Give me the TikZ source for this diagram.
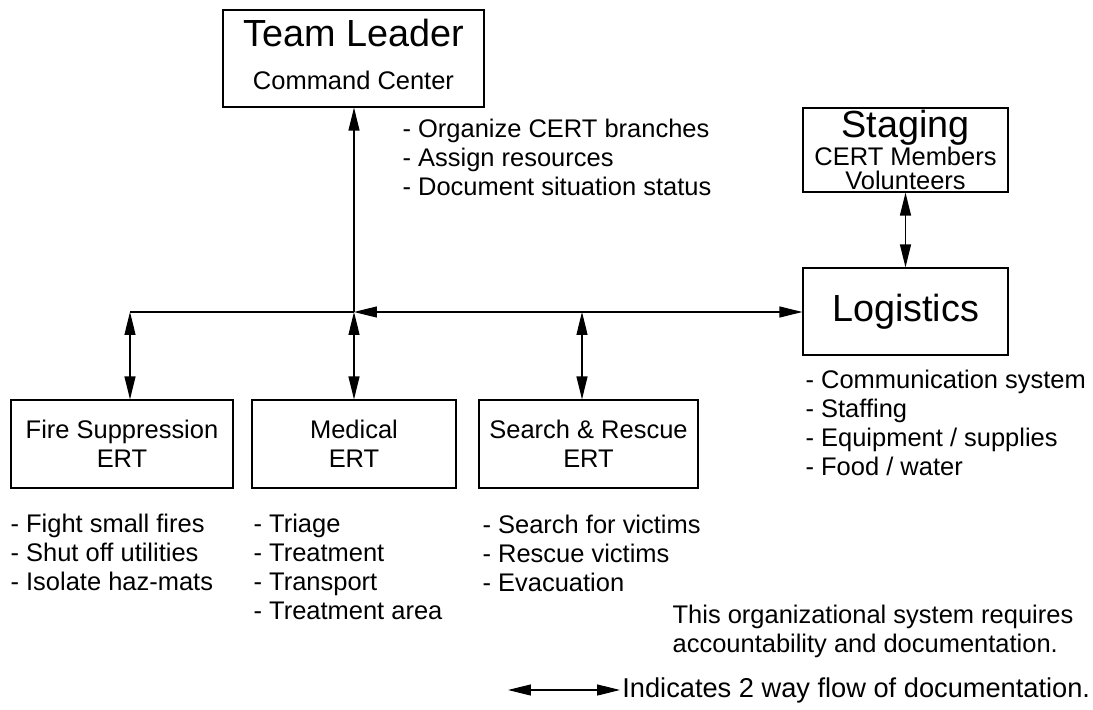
\documentclass[tikz,border=0pt]{standalone}
\usepackage{fontspec}
\setmainfont{Liberation Sans}
\usetikzlibrary{arrows.meta}
\newcommand{\lrg}{\fontsize{21.5}{24}\selectfont}
\newcommand{\txt}{\fontsize{14.5}{16.6}\selectfont}

\begin{document}
\begin{tikzpicture}[x=0.02cm, y=-0.02cm, line width=0.7pt, >={Triangle[length=4.6mm, width=2.2mm]},
	box/.style={draw, inner sep=0pt, align=center, font=\txt},
	notes/.style={anchor=north west, inner sep=0pt, align=left, font=\txt}]
	\useasboundingbox (0,0) rectangle (1093,710);

	\node[box, minimum width=5.22cm, minimum height=1.94cm] (leader) at (353.5,58.5) {{\lrg Team Leader}\\[7.5pt]Command Center\\[-12pt]\mbox{}};
	\node[box, minimum width=4.1cm, minimum height=1.68cm, font=\fontsize{14.5}{13.6}\selectfont] (staging) at (905.5,150) {{\lrg Staging}\\CERT Members\\Volunteers};
	\node[box, minimum width=4.1cm, minimum height=1.74cm, font=\lrg] (logistics) at (905.5,311.5) {Logistics};
	\node[box, minimum width=4.44cm, minimum height=1.76cm] (fire) at (122,444) {Fire Suppression\\ERT};
	\node[box, minimum width=4.08cm, minimum height=1.76cm] (medical) at (354,444) {Medical\\ERT};
	\node[box, minimum width=4.38cm, minimum height=1.76cm] (search) at (588.5,444) {Search \& Rescue\\ERT};

	\coordinate (hub) at (354,312); \coordinate (fbr) at (130,312); \coordinate (sbr) at (582,312);
	\draw[->] (hub) -- (hub |- leader.south);
	\draw (fbr) -- (hub);
	\draw[<->] (hub) -- (hub -| logistics.west);
	\draw[<->] (fbr) -- (fbr |- fire.north);
	\draw[<->] (hub) -- (medical.north);
	\draw[<->] (sbr) -- (sbr |- search.north);
	\draw[<->] (staging.south) -- (logistics.north);

	\node[notes] (leadnotes) at (402,118) {- Organize CERT branches\\- Assign resources\\- Document situation status};
	\node[notes] (lognotes) at (805,369) {- Communication system\\- Staffing\\- Equipment / supplies\\- Food / water};
	\node[notes] (firenotes) at (10,513) {- Fight small fires\\- Shut off utilities\\- Isolate haz-mats};
	\node[notes] (mednotes) at (253,513) {- Triage\\- Treatment\\- Transport\\- Treatment area};
	\node[notes] (searchnotes) at (482,514) {- Search for victims\\- Rescue victims\\- Evacuation};
	\node[notes] (remark) at (672,604) {This organizational system requires\\accountability and documentation.};

	% legend
	\coordinate (lgA) at (508,690); \coordinate (lgB) at (620,690);
	\draw[<->] (lgA) -- (lgB);
	\node[anchor=west, inner sep=0pt, font=\fontsize{15.5}{17}\selectfont] (legend) at ([xshift=1pt]lgB) {Indicates 2 way flow of documentation.};
\end{tikzpicture}
\end{document}
